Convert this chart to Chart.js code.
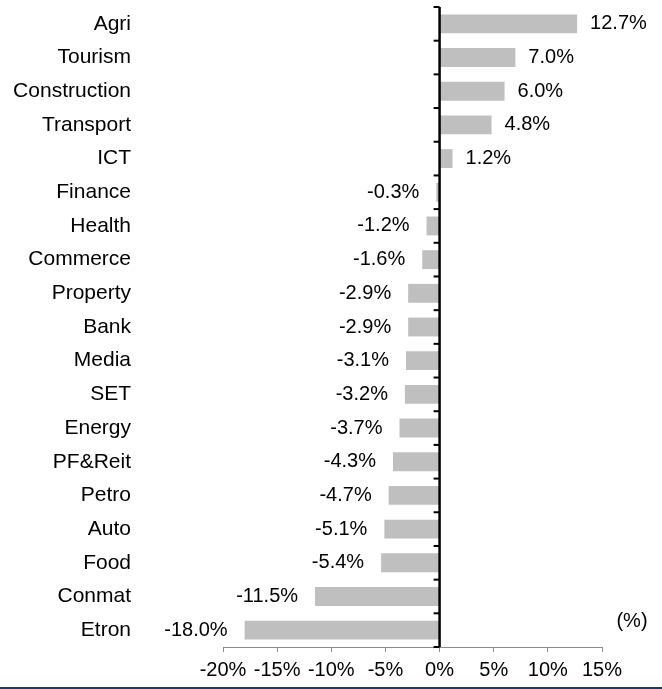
<!DOCTYPE html>
<html>
<head>
<meta charset="utf-8">
<script src="https://cdn.jsdelivr.net/npm/chart.js@4/dist/chart.umd.min.js"></script>
<style>
  html, body { margin: 0; padding: 0; background: #fff; }
  #wrap { width: 662px; height: 687px; border-bottom: 2px solid #203864; position: relative; }
  canvas { display: block; }
</style>
</head>
<body>
<div id="wrap"><canvas id="c" width="662" height="687"></canvas></div>
<script>
const categories = ["Agri","Tourism","Construction","Transport","ICT","Finance","Health","Commerce","Property","Bank","Media","SET","Energy","PF&Reit","Petro","Auto","Food","Conmat","Etron"];
const values = [12.7, 7.0, 6.0, 4.8, 1.2, -0.3, -1.2, -1.6, -2.9, -2.9, -3.1, -3.2, -3.7, -4.3, -4.7, -5.1, -5.4, -11.5, -18.0];
const xTicks = [-20, -15, -10, -5, 0, 5, 10, 15];
const unitLabel = "(%)";

const FONT = "'Liberation Sans', Arial, sans-serif";

const overlay = {
  id: 'overlay',
  afterDatasetsDraw(chart) {
    const ctx = chart.ctx;
    const xs = chart.scales.x, area = chart.chartArea;
    const x0 = xs.getPixelForValue(0);
    ctx.save();
    // value labels
    ctx.font = "20px " + FONT;
    ctx.fillStyle = '#000';
    ctx.textBaseline = 'middle';
    const meta = chart.getDatasetMeta(0);
    meta.data.forEach((bar, i) => {
      const v = values[i];
      const txt = v.toFixed(1) + '%';
      if (v >= 0) { ctx.textAlign = 'left'; ctx.fillText(txt, bar.x + 13, bar.y); }
      else { ctx.textAlign = 'right'; ctx.fillText(txt, bar.x - 17, bar.y); }
    });
    // vertical zero axis with tick marks
    ctx.strokeStyle = '#000';
    ctx.lineWidth = 2.5;
    ctx.beginPath();
    ctx.moveTo(x0, area.top);
    ctx.lineTo(x0, area.bottom);
    ctx.stroke();
    ctx.lineWidth = 2;
    const n = categories.length;
    const step = (area.bottom - area.top) / n;
    for (let i = 0; i <= n; i++) {
      const y = area.top + i * step;
      ctx.beginPath();
      ctx.moveTo(x0 - 6, y);
      ctx.lineTo(x0, y);
      ctx.stroke();
    }
    // unit label
    ctx.textAlign = 'center';
    ctx.fillText(unitLabel, area.right + 30, 621);
    ctx.restore();
  }
};

new Chart(document.getElementById('c'), {
  type: 'bar',
  data: {
    labels: categories,
    datasets: [{
      data: values,
      backgroundColor: '#bfbfbf',
      borderWidth: 0,
      barPercentage: 0.56,
      categoryPercentage: 1.0
    }]
  },
  options: {
    indexAxis: 'y',
    responsive: false,
    animation: false,
    events: [],
    layout: { padding: { top: 7, right: 60, left: 0, bottom: 0 } },
    plugins: { legend: { display: false }, tooltip: { enabled: false } },
    scales: {
      x: {
        type: 'linear',
        min: -20, max: 15,
        afterBuildTicks(s) { s.ticks = xTicks.map(v => ({ value: v })); },
        afterFit(s) { s.height = 40; s.paddingLeft = 0; s.paddingRight = 0; },
        border: { display: true, color: '#8c8c8c', width: 1 },
        grid: { drawOnChartArea: false, drawTicks: true, tickLength: 5, color: '#8c8c8c', lineWidth: 1 },
        ticks: {
          color: '#000',
          font: { size: 20, family: FONT },
          padding: 6,
          maxRotation: 0,
          autoSkip: false,
          callback: v => v + '%'
        }
      },
      y: {
        type: 'category',
        afterFit(s) { s.width = 223; s.paddingTop = 0; s.paddingBottom = 0; },
        border: { display: false },
        grid: { display: false, drawTicks: false },
        ticks: {
          color: '#000',
          font: { size: 21, family: FONT },
          padding: 92,
          autoSkip: false
        }
      }
    }
  },
  plugins: [overlay]
});
</script>
</body>
</html>
